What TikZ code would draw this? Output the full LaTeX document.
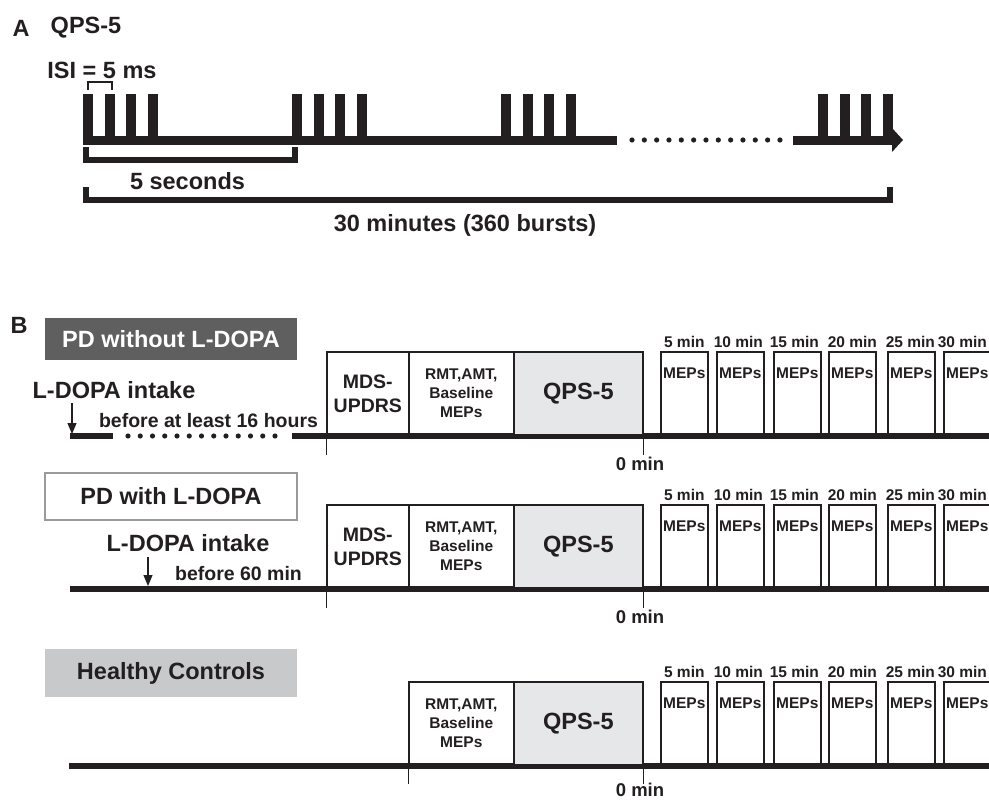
\documentclass[tikz,border=0pt]{standalone}
\usepackage{fontspec}
\setmainfont{Liberation Sans}
\usetikzlibrary{arrows.meta, positioning}
\definecolor{qpsInk}{HTML}{231F20}
\definecolor{qpsDark}{HTML}{5F5F5F}
\definecolor{qpsLight}{HTML}{C8C9CB}
\definecolor{qpsFill}{HTML}{E6E7E8}
\definecolor{qpsEdge}{HTML}{9A9A9A}
\newcommand{\bigtxt}{\fontsize{23.5}{26}\selectfont\bfseries}
\newcommand{\midtxt}{\fontsize{19.5}{24}\selectfont\bfseries}
\newcommand{\smtxt}{\fontsize{15.5}{19}\selectfont\bfseries}

\begin{document}
\begin{tikzpicture}[x=1pt, y=-1pt,
    lbl/.style={inner sep=0pt, text=qpsInk, font=\bigtxt},
    stagebox/.style={draw=qpsInk, line width=1.6pt, anchor=south west,
      minimum height=83pt, inner sep=0pt, align=center, text=qpsInk},
    mepbox/.style={stagebox, minimum width=47pt,
      label={[anchor=north, yshift=-16pt, inner sep=0pt, text=qpsInk, font=\smtxt]north:MEPs}},
    grpbox/.style={minimum width=252pt, inner sep=0pt, font=\bigtxt},
    axis/.style={line width=6pt, qpsInk},
    tick/.style={line width=0.8pt, qpsInk},
    intake/.style={qpsInk, line width=1.2pt, -{Triangle[length=11pt,width=9pt]}}]
  \useasboundingbox (0,0) rectangle (989,800);

  % ---- A: stimulation pattern
  \node[lbl] (capA) at (21,28) {A};
  \node[lbl] (titleA) at (86,28) {QPS-5};
  \node[lbl] (isi) at (102,70) {ISI = 5 ms};
  \draw[qpsInk, line width=2pt] (88,90) -- (88,82) -- (112,82) -- (112,90);
  \foreach \bx in {83,292,501,818} {
    \foreach \k in {0,...,3}
      \fill[qpsInk] (\bx+\k*21.5,94) rectangle ++(10,46);
  }
  \fill[qpsInk] (83,135.5) rectangle (617,144.5);
  \foreach \i in {0,...,12}
    \fill[qpsInk] (632+\i*12.33,140) circle (2.6);
  \fill[qpsInk] (793,135.5) rectangle (893,144.5);
  \fill[qpsInk] (892,128) -- (903,140) -- (892,152) -- cycle;
  \draw[qpsInk, line width=6pt] (86,147) -- (86,160) -- (295,160) -- (295,147);
  \node[lbl] (fivesec) at (187.5,181) {5 seconds};
  \draw[qpsInk, line width=6pt] (86,187) -- (86,200) -- (890,200) -- (890,187);
  \node[lbl] (thirty) at (465,225) {30 minutes (360 bursts)};

  % ---- B: protocol
  \node[lbl] (capB) at (19,325) {B};

  % PD without L-DOPA
  \node[grpbox, fill=qpsDark, text=white, minimum height=42pt] (g1) at (171,339) {PD without L-DOPA};
  \node[lbl] (in1txt) at (114,390) {L-DOPA intake};
  \node[lbl, font=\midtxt] (wait1) at (208.5,421) {before at least 16 hours};
  \fill[qpsInk] (70,433) rectangle (113,439);
  \foreach \i in {0,...,12}
    \fill[qpsInk] (128+\i*12.25,436) circle (2.6);
  \draw[axis] (292,436) -- (990,436);
  \coordinate (in1) at (72,403);
  \coordinate (in1end) at (72,434);
  \draw[intake] (in1) -- (in1end);
  \node[stagebox, minimum width=82pt, font=\midtxt] (r1mds) at (326,436) {MDS-\\UPDRS};
  \node[stagebox, minimum width=105pt, font=\smtxt] (r1rmt) at (408,436) {RMT,AMT,\\Baseline\\MEPs};
  \node[stagebox, minimum width=129pt, fill=qpsFill, font=\bigtxt] (r1qps) at (513,436) {QPS-5};
  \draw[tick] (r1mds.south west) -- ++(0,19);
  \draw[tick] (r1qps.south east) -- ++(0,19);
  \node[lbl, font=\fontsize{18.5}{22}\selectfont\bfseries] (r1zero) at (640,464) {0 min};

  % PD with L-DOPA
  \node[grpbox, draw=qpsEdge, line width=1.5pt, fill=white, text=qpsInk, minimum height=47pt] (g2) at (171,496.5) {PD with L-DOPA};
  \node[lbl] (in2txt) at (188,543) {L-DOPA intake};
  \node[lbl, font=\midtxt] (wait2) at (238.5,574) {before 60 min};
  \draw[axis] (70,589) -- (990,589);
  \coordinate (in2) at (148,557);
  \coordinate (in2end) at (148,586);
  \draw[intake] (in2) -- (in2end);
  \node[stagebox, minimum width=82pt, font=\midtxt] (r2mds) at (326,589) {MDS-\\UPDRS};
  \node[stagebox, minimum width=105pt, font=\smtxt] (r2rmt) at (408,589) {RMT,AMT,\\Baseline\\MEPs};
  \node[stagebox, minimum width=129pt, fill=qpsFill, font=\bigtxt] (r2qps) at (513,589) {QPS-5};
  \draw[tick] (r2mds.south west) -- ++(0,19);
  \draw[tick] (r2qps.south east) -- ++(0,19);
  \node[lbl, font=\fontsize{18.5}{22}\selectfont\bfseries] (r2zero) at (640,617) {0 min};

  % Healthy controls
  \node[grpbox, fill=qpsLight, text=qpsInk, minimum height=48pt] (g3) at (171,673) {Healthy Controls};
  \draw[axis] (69,766) -- (990,766);
  \node[stagebox, minimum width=105pt, font=\smtxt] (r3rmt) at (408,766) {RMT,AMT,\\Baseline\\MEPs};
  \node[stagebox, minimum width=129pt, fill=qpsFill, font=\bigtxt] (r3qps) at (513,766) {QPS-5};
  \draw[tick] (r3rmt.south west) -- ++(0,18);
  \draw[tick] (r3qps.south east) -- ++(0,18);
  \node[lbl, font=\fontsize{18.5}{22}\selectfont\bfseries] (r3zero) at (640,790) {0 min};

  % MEP blocks after QPS-5
  \foreach \ly/\r in {436/1,589/2,766/3} {
    \foreach \xl/\t/\dx [count=\i] in {660/5/0,716/10/-2,773/15/-3,828/20/0,887/25/-1,943/30/-5}
      \node[mepbox, label={[inner sep=0pt, label distance=4pt, xshift=\dx pt, text=qpsInk, font=\smtxt]above:\t\ min}]
        (r\r m\i) at (\xl,\ly) {};
  }
\end{tikzpicture}
\end{document}
